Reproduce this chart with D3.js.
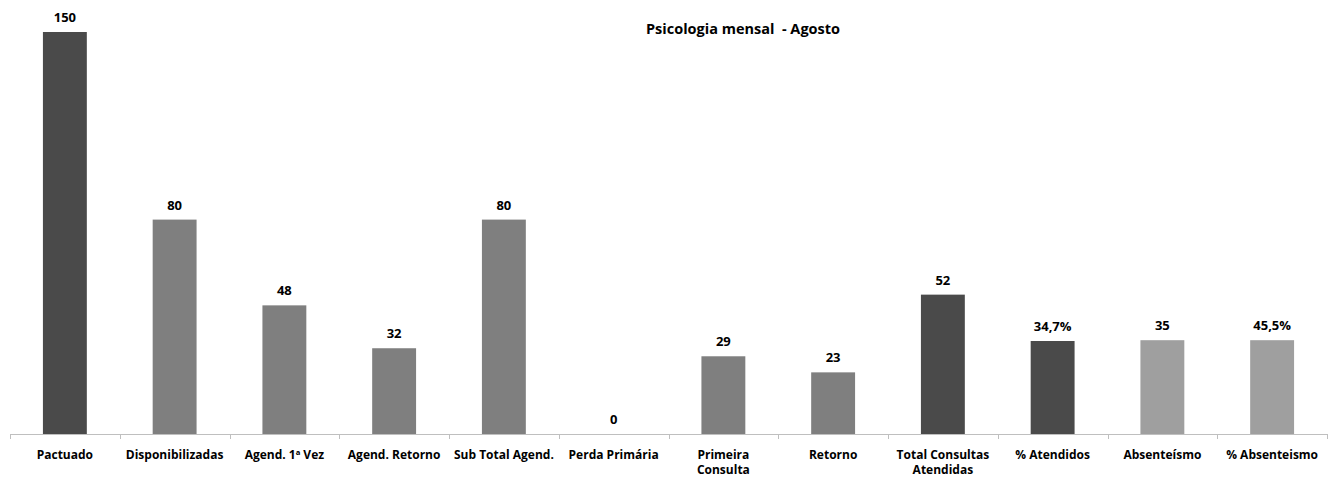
<!DOCTYPE html>
<html><head><meta charset="utf-8">
<script src="https://cdn.jsdelivr.net/npm/d3@7"></script>
<style>body{margin:0;background:#fff}svg{display:block}text{font-family:"Open Sans",Lato,sans-serif;font-weight:bold;fill:#000;white-space:pre}</style>
</head><body>
<svg id="c" width="1330" height="479"></svg>
<script>
const categories = ["Pactuado","Disponibilizadas","Agend. 1ª Vez","Agend. Retorno","Sub Total Agend.","Perda Primária","Primeira Consulta","Retorno","Total Consultas Atendidas","% Atendidos","Absenteísmo","% Absenteismo"];
const values = [150,80,48,32,80,0,29,23,52,34.7,35,35];
const valueLabels = ["150","80","48","32","80","0","29","23","52","34,7%","35","45,5%"];
const colors = ["#4a4a4a","#7f7f7f","#7f7f7f","#7f7f7f","#7f7f7f","#7f7f7f","#7f7f7f","#7f7f7f","#4a4a4a","#4a4a4a","#9f9f9f","#9f9f9f"];
const title = "Psicologia mensal  - Agosto";

(function(){
const svg = d3.select("#c");
const left = 10, right = 1327, base = 434, topY = 32;
const x = d3.scaleBand().domain(categories).range([left, right]).paddingInner(0.6).paddingOuter(0.3);
const y = d3.scaleLinear().domain([0,150]).range([base, topY]);

svg.append("text").attr("x",743).attr("y",34).attr("text-anchor","middle").style("font-size","14.5px").text(title);

svg.selectAll("rect.bar").data(categories).join("rect").attr("class","bar")
  .attr("x", d=>x(d)).attr("width", x.bandwidth())
  .attr("y", (d,i)=>y(values[i])).attr("height",(d,i)=>base - y(values[i]))
  .attr("fill",(d,i)=>colors[i]);

svg.selectAll("text.val").data(categories).join("text").attr("class","val")
  .attr("x", d=>x(d)+x.bandwidth()/2).attr("y",(d,i)=>y(values[i])-10)
  .attr("text-anchor","middle").style("font-size","13px").text((d,i)=>valueLabels[i]);

const step = (right-left)/categories.length;
const ax = svg.append("g");
ax.append("line").attr("x1",left).attr("x2",right).attr("y1",base+0.5).attr("y2",base+0.5).attr("stroke","#bfbfbf");
d3.range(categories.length+1).forEach(i=>{
  const xx = Math.round(left + i*step)+0.5;
  ax.append("line").attr("x1",xx).attr("x2",xx).attr("y1",base).attr("y2",base+5).attr("stroke","#bfbfbf");
});
const wrapMap = {"Primeira Consulta":["Primeira","Consulta"],"Total Consultas Atendidas":["Total Consultas","Atendidas"]};
categories.forEach(c=>{
  const lines = wrapMap[c] || [c];
  const t = svg.append("text").attr("x", x(c)+x.bandwidth()/2).attr("y",459).attr("text-anchor","middle").style("font-size","12px");
  lines.forEach((l,j)=>t.append("tspan").attr("x", x(c)+x.bandwidth()/2).attr("dy", j?15:0).text(l));
});
})();
</script>
</body></html>
